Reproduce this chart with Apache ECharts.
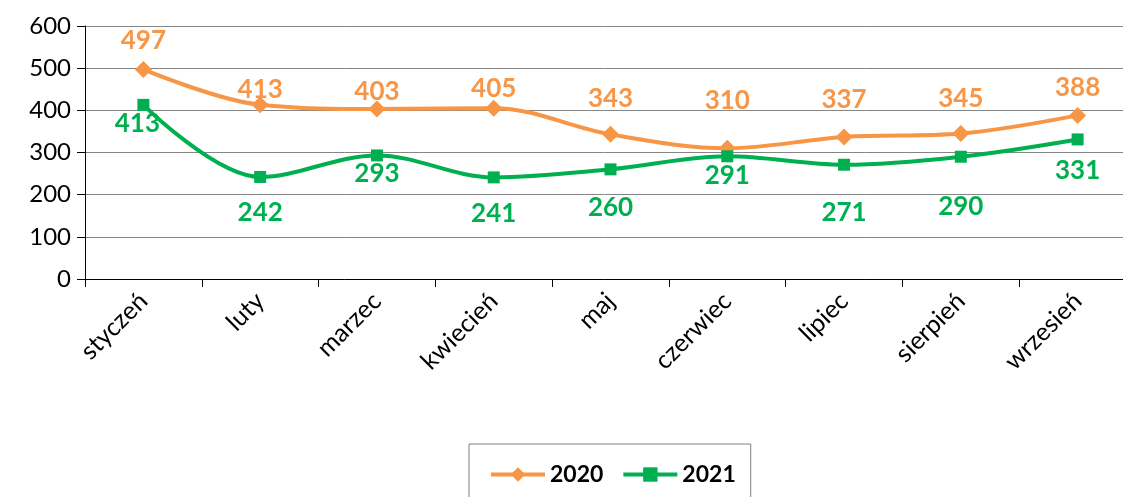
<!DOCTYPE html>
<html>
<head>
<meta charset="utf-8">
<script src="https://cdn.jsdelivr.net/npm/echarts@6/dist/echarts.min.js"></script>
<style>
  html, body { margin: 0; padding: 0; background: #fff; }
  #main { width: 1123px; height: 497px; }
</style>
</head>
<body>
<div id="main"></div>
<script>
// dane
var months = ['styczeń', 'luty', 'marzec', 'kwiecień', 'maj', 'czerwiec', 'lipiec', 'sierpień', 'wrzesień']
var values2020 = [497, 413, 403, 405, 343, 310, 337, 345, 388]
var values2021 = [413, 242, 293, 241, 260, 291, 271, 290, 331]
var yTicks = [0, 100, 200, 300, 400, 500, 600]

// przesunięcia etykiet (px) – tak jak w oryginale, ręcznie ustawione
var lift2020 = [29, 15, 17, 20, 36, 48, 37, 35, 28]
var drop2021 = [19, 36, 18, 36, 38, 19, 48, 50, 31]

var FONT = 'Lato, "Open Sans", sans-serif'
var ORANGE = '#F79646'
var GREEN = '#00B050'

function withOffsets(values, offsets, sign) {
  return values.map(function (v, i) {
    return { value: v, label: { offset: [i === 0 && sign > 0 ? -6 : 0, sign * offsets[i]] } }
  })
}

var myChart = echarts.init(document.getElementById('main'))

var labelBase = {
  show: true,
  position: 'inside',
  fontSize: 26,
  fontWeight: 'bold',
  fontFamily: FONT
}

myChart.setOption({
  animation: false,
  textStyle: { fontFamily: FONT },
  grid: {
    left: 85,
    top: 26,
    width: 1051,
    height: 253,
    containLabel: false,
    outerBoundsMode: 'none'
  },
  legend: {
    bottom: -12,
    left: 469,
    padding: [19, 15, 23, 20],
    itemGap: 18,
    itemWidth: 54,
    itemHeight: 18,
    borderColor: '#7f7f7f',
    borderWidth: 1,
    lineStyle: { width: 4 },
    textStyle: { fontFamily: FONT, fontSize: 23, fontWeight: 'bold', color: '#000' },
    data: ['2020', '2021']
  },
  xAxis: {
    type: 'category',
    data: months,
    boundaryGap: true,
    axisLine: { lineStyle: { color: '#000', width: 1 } },
    axisTick: { show: true, length: 8, lineStyle: { color: '#000' } },
    axisLabel: {
      rotate: 45,
      margin: 18,
      fontSize: 25,
      color: '#000',
      fontFamily: FONT
    }
  },
  yAxis: {
    type: 'value',
    min: yTicks[0],
    max: yTicks[yTicks.length - 1],
    interval: 100,
    axisLine: { show: true, lineStyle: { color: '#000', width: 1 } },
    axisTick: { show: true, length: 8, lineStyle: { color: '#000' } },
    splitLine: { lineStyle: { color: '#858585', width: 1 } },
    axisLabel: { fontSize: 24, color: '#000', margin: 14, fontFamily: FONT }
  },
  series: [
    {
      name: '2020',
      type: 'line',
      smooth: 0.35,
      data: withOffsets(values2020, lift2020, -1),
      symbol: 'diamond',
      symbolSize: 17,
      itemStyle: { color: ORANGE },
      lineStyle: { color: ORANGE, width: 4 },
      label: Object.assign({ color: ORANGE }, labelBase)
    },
    {
      name: '2021',
      type: 'line',
      smooth: 0.35,
      data: withOffsets(values2021, drop2021, 1),
      symbol: 'rect',
      symbolSize: 12,
      itemStyle: { color: GREEN },
      lineStyle: { color: GREEN, width: 4 },
      label: Object.assign({ color: GREEN }, labelBase)
    }
  ]
})
</script>
</body>
</html>
